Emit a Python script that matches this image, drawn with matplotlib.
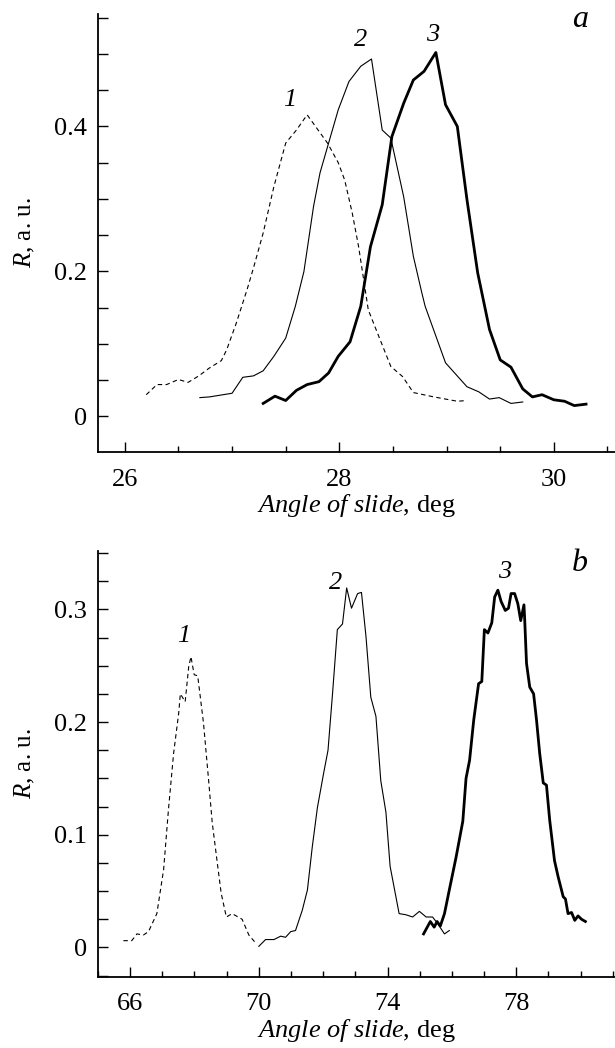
import numpy as np
import matplotlib
matplotlib.use('Agg')
import matplotlib.pyplot as plt
from matplotlib.ticker import MultipleLocator

plt.rcParams['font.family'] = ['Liberation Serif', 'DejaVu Serif']
plt.rcParams['mathtext.fontset'] = 'custom'
plt.rcParams['mathtext.it'] = 'Liberation Serif:italic'
plt.rcParams['mathtext.rm'] = 'Liberation Serif'

# panel a
a1_x = [26.20, 26.30, 26.39, 26.50, 26.59, 26.69, 26.79, 26.90, 26.95, 27.04, 27.14, 27.20, 27.29, 27.39,
        27.50, 27.60, 27.70, 27.89, 27.99, 28.05, 28.12, 28.18, 28.27, 28.38, 28.48, 28.59, 28.69, 28.88,
        29.10, 29.19]
a1_y = [0.030, 0.044, 0.044, 0.051, 0.047, 0.056, 0.067, 0.077, 0.092, 0.129, 0.175, 0.205, 0.253, 0.317,
        0.377, 0.395, 0.416, 0.377, 0.350, 0.326, 0.281, 0.234, 0.147, 0.106, 0.069, 0.055, 0.033, 0.027,
        0.021, 0.022]
a2_x = [26.70, 26.79, 27.00, 27.10, 27.20, 27.29, 27.39, 27.50, 27.59, 27.67, 27.76, 27.82, 27.90, 27.99,
        28.09, 28.20, 28.30, 28.40, 28.48, 28.60, 28.69, 28.77, 28.80, 28.99, 29.19, 29.30, 29.40, 29.49,
        29.60, 29.71]
a2_y = [0.026, 0.027, 0.032, 0.054, 0.056, 0.063, 0.083, 0.108, 0.152, 0.200, 0.290, 0.336, 0.377, 0.423,
        0.462, 0.483, 0.493, 0.395, 0.384, 0.303, 0.221, 0.170, 0.152, 0.074, 0.041, 0.034, 0.024, 0.026,
        0.018, 0.020]
a3_x = [27.29, 27.40, 27.50, 27.60, 27.70, 27.81, 27.90, 27.99, 28.10, 28.20, 28.29, 28.40, 28.49, 28.60,
        28.69, 28.79, 28.90, 28.99, 29.10, 29.19, 29.29, 29.40, 29.50, 29.60, 29.71, 29.80, 29.89, 30.00,
        30.10, 30.19, 30.30]
a3_y = [0.018, 0.028, 0.022, 0.036, 0.044, 0.048, 0.060, 0.083, 0.103, 0.152, 0.234, 0.292, 0.386, 0.432,
        0.464, 0.476, 0.502, 0.430, 0.400, 0.299, 0.198, 0.120, 0.078, 0.068, 0.038, 0.027, 0.030, 0.023,
        0.021, 0.015, 0.017]

# panel b
b1_x = [65.79, 66.05, 66.21, 66.41, 66.57, 66.83, 67.04, 67.19, 67.35, 67.51, 67.56, 67.71, 67.82, 67.89,
        67.99, 68.10, 68.28, 68.44, 68.55, 68.70, 68.83, 68.99, 69.17, 69.48, 69.69, 69.90]
b1_y = [0.006, 0.006, 0.012, 0.011, 0.014, 0.030, 0.069, 0.122, 0.172, 0.208, 0.225, 0.218, 0.249, 0.258,
        0.242, 0.241, 0.199, 0.148, 0.111, 0.077, 0.048, 0.027, 0.030, 0.025, 0.011, 0.004]
b2_x = [70.00, 70.21, 70.47, 70.68, 70.83, 70.99, 71.14, 71.35, 71.51, 71.66, 71.82, 72.01, 72.15, 72.29,
        72.44, 72.60, 72.73, 72.88, 73.07, 73.19, 73.33, 73.48, 73.64, 73.79, 73.95, 74.08, 74.36, 74.57,
        74.78, 74.99, 75.20, 75.40, 75.56, 75.77, 75.92]
b2_y = [0.001, 0.007, 0.007, 0.010, 0.009, 0.014, 0.015, 0.033, 0.051, 0.089, 0.124, 0.154, 0.175, 0.225,
        0.282, 0.287, 0.319, 0.301, 0.314, 0.315, 0.276, 0.222, 0.205, 0.148, 0.120, 0.072, 0.030, 0.029,
        0.027, 0.032, 0.027, 0.027, 0.021, 0.012, 0.015]
b3_x = [75.12, 75.33, 75.45, 75.54, 75.64, 75.77, 75.92, 76.13, 76.34, 76.44, 76.55, 76.68, 76.83, 76.93,
        77.01, 77.12, 77.24, 77.33, 77.43, 77.53, 77.66, 77.76, 77.84, 77.95, 78.05, 78.14, 78.24, 78.26,
        78.32, 78.42, 78.54, 78.63, 78.73, 78.84, 78.94, 79.04, 79.19, 79.30, 79.46, 79.53, 79.61, 79.72,
        79.82, 79.92, 80.03, 80.15]
b3_y = [0.012, 0.023, 0.018, 0.023, 0.019, 0.030, 0.051, 0.080, 0.112, 0.150, 0.166, 0.202, 0.234, 0.236,
        0.282, 0.279, 0.288, 0.311, 0.317, 0.307, 0.299, 0.301, 0.314, 0.314, 0.305, 0.290, 0.304, 0.293,
        0.252, 0.231, 0.225, 0.202, 0.172, 0.146, 0.144, 0.113, 0.077, 0.063, 0.045, 0.043, 0.030, 0.031,
        0.024, 0.028, 0.025, 0.023]

labels = ['1', '2', '3']
a_label_pos = [(27.54, 0.437), (28.20, 0.519), (28.87, 0.526)]
b_label_pos = [(67.66, 0.276), (72.39, 0.323), (77.64, 0.333)]
a_xticks = [26, 28, 30]
b_xticks = [66, 70, 74, 78]

FS = 19

fig = plt.figure(figsize=(6.15, 10.48), dpi=100)
ax1 = fig.add_axes([0.1593, 0.5687, 0.8407, 0.4179])
ax2 = fig.add_axes([0.1593, 0.068, 0.8407, 0.4065])

ax1.plot(a1_x, a1_y, color='black', lw=0.8, ls=(0, (4, 3)))
ax1.plot(a2_x, a2_y, color='black', lw=0.8)
ax1.plot(a3_x, a3_y, color='black', lw=2.0)
ax2.plot(b1_x, b1_y, color='black', lw=0.8, ls=(0, (4, 3)))
ax2.plot(b2_x, b2_y, color='black', lw=0.8)
ax2.plot(b3_x, b3_y, color='black', lw=2.0)

for lab, (x, y) in zip(labels, a_label_pos):
    ax1.text(x, y, lab, fontsize=FS, style='italic', ha='center', va='center')
for lab, (x, y) in zip(labels, b_label_pos):
    ax2.text(x, y, lab, fontsize=FS, style='italic', ha='center', va='center')
ax1.text(30.24, 0.547, 'a', fontsize=23, style='italic', ha='center', va='center')
ax2.text(79.97, 0.341, 'b', fontsize=23, style='italic', ha='center', va='center')

ax1.set_xlim(25.75, 30.57)
ax1.set_ylim(-0.049, 0.555)
ax1.set_xticks(a_xticks)
ax1.xaxis.set_minor_locator(MultipleLocator(0.5))
ax1.yaxis.set_major_locator(MultipleLocator(0.2))
ax1.yaxis.set_minor_locator(MultipleLocator(0.05))

ax2.set_xlim(65.0, 81.07)
ax2.set_ylim(-0.026, 0.352)
ax2.set_xticks(b_xticks)
ax2.xaxis.set_minor_locator(MultipleLocator(1))
ax2.yaxis.set_major_locator(MultipleLocator(0.1))
ax2.yaxis.set_minor_locator(MultipleLocator(0.025))

for ax in (ax1, ax2):
    for s in ('top', 'right'):
        ax.spines[s].set_visible(False)
    for s in ('left', 'bottom'):
        ax.spines[s].set_linewidth(1.3)
    ax.tick_params(which='both', direction='in', labelsize=FS, width=1.0, pad=8)
    ax.tick_params(axis='x', which='both', pad=12)
    ax.tick_params(which='major', length=7)
    ax.tick_params(which='minor', length=4)
    ax.tick_params(axis='y', which='minor', length=7)
    ax.yaxis.set_major_formatter(plt.FuncFormatter(lambda v, p: '0' if abs(v) < 1e-9 else f'{v:g}'))
    ax.set_xlabel(r'$\mathit{Angle\ of\ slide}$, deg', fontsize=19, labelpad=1)
    ax.set_ylabel(r'$\mathit{R}$, a. u.', fontsize=18, labelpad=12)

fig.savefig('out.png', dpi=100)
